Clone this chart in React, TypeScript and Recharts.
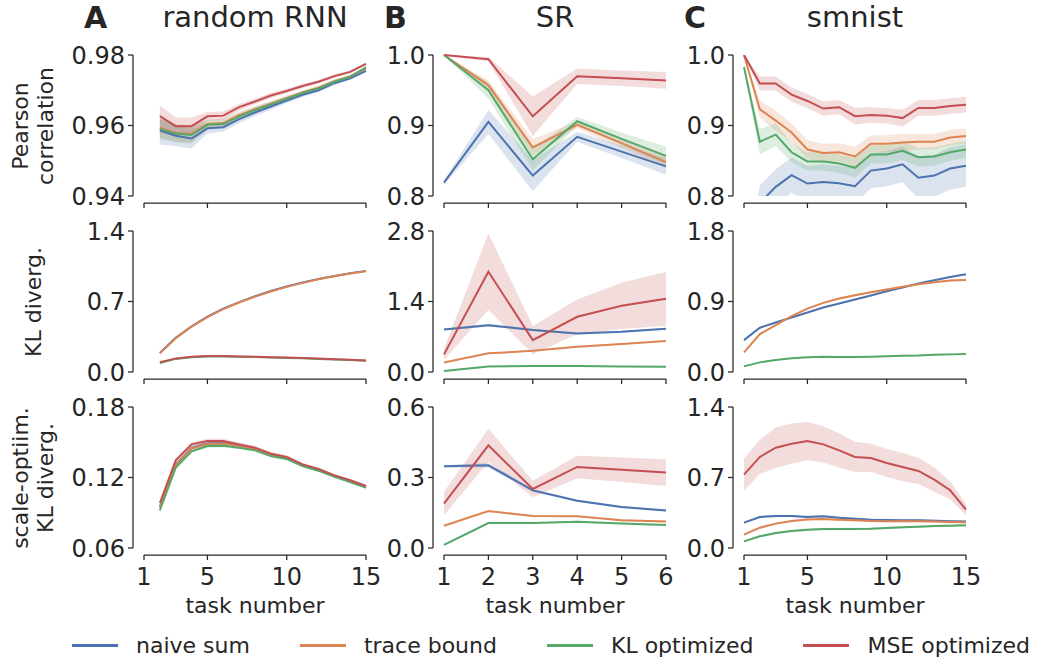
import React from "react";
import { Area, ComposedChart, Line, XAxis, YAxis } from "recharts";

const FONT = "'DejaVu Sans', sans-serif";
const INK = "#262626";

type Key = "naive" | "trace" | "kl" | "mse";

const SERIES: { key: Key; name: string; color: string }[] = [
  { key: "naive", name: "naive sum", color: "#4c72b0" },
  { key: "trace", name: "trace bound", color: "#dd8452" },
  { key: "kl", name: "KL optimized", color: "#55a868" },
  { key: "mse", name: "MSE optimized", color: "#c44e52" },
];

const COLUMN_TITLES = ["random RNN", "SR", "smnist"];
const PANEL_LETTERS = ["A", "B", "C"];
const ROW_LABELS = ["Pearson\ncorrelation", "KL diverg.", "scale-optiim.\nKL diverg."];

// task numbers on the x axis
const RNN_TASKS = [2, 3, 4, 5, 6, 7, 8, 9, 10, 11, 12, 13, 14, 15];
const SR_TASKS = [1, 2, 3, 4, 5, 6];
const MNIST_TASKS = [1, 2, 3, 4, 5, 6, 7, 8, 9, 10, 11, 12, 13, 14, 15];

const RNN_X_TICKS = [1, 5, 10, 15];
const SR_X_TICKS = [1, 2, 3, 4, 5, 6];
const MNIST_X_TICKS = [1, 5, 10, 15];

// random RNN
const rnnPearson = {
  naive: [0.9586, 0.9571, 0.9563, 0.9592, 0.9595, 0.9618, 0.9637, 0.9654, 0.9671, 0.9687, 0.97, 0.972, 0.9734, 0.9755],
  trace: [0.9594, 0.9579, 0.9576, 0.9604, 0.9607, 0.9629, 0.9646, 0.9662, 0.9678, 0.9694, 0.9707, 0.9726, 0.9739, 0.9762],
  kl: [0.959, 0.9577, 0.9573, 0.9602, 0.9604, 0.9626, 0.9644, 0.966, 0.9676, 0.9692, 0.9705, 0.9724, 0.9738, 0.9765],
  mse: [0.9627, 0.9598, 0.9598, 0.9626, 0.9628, 0.9652, 0.9668, 0.9685, 0.9698, 0.9712, 0.9724, 0.974, 0.9752, 0.9775],
};
const rnnPearsonErr = {
  naive: [0.004, 0.003, 0.0028, 0.0015, 0.0013, 0.0011, 0.001, 0.0009, 0.0008, 0.0007, 0.0006, 0.0006, 0.0005, 0.0005],
  trace: [0.0028, 0.0025, 0.0024, 0.0013, 0.0012, 0.001, 0.0009, 0.0008, 0.0007, 0.0006, 0.0006, 0.0005, 0.0005, 0.0004],
  kl: [0.0028, 0.0025, 0.0024, 0.0013, 0.0012, 0.001, 0.0009, 0.0008, 0.0007, 0.0006, 0.0006, 0.0005, 0.0005, 0.0004],
  mse: [0.003, 0.0025, 0.0025, 0.0012, 0.0012, 0.001, 0.0008, 0.0008, 0.0006, 0.0006, 0.0005, 0.0005, 0.0004, 0.0004],
};
const rnnKl = {
  naive: [0.189, 0.339, 0.454, 0.549, 0.629, 0.694, 0.752, 0.804, 0.849, 0.889, 0.924, 0.954, 0.981, 1.004],
  trace: [0.185, 0.335, 0.45, 0.545, 0.625, 0.69, 0.748, 0.8, 0.845, 0.885, 0.92, 0.95, 0.977, 1.0],
  kl: [0.088, 0.13, 0.147, 0.153, 0.153, 0.151, 0.148, 0.143, 0.139, 0.136, 0.13, 0.124, 0.118, 0.111],
  mse: [0.096, 0.135, 0.152, 0.158, 0.158, 0.155, 0.152, 0.147, 0.143, 0.139, 0.133, 0.127, 0.121, 0.114],
};
const rnnKlErr = {
  naive: [0.004, 0.004, 0.004, 0.004, 0.004, 0.004, 0.004, 0.004, 0.004, 0.004, 0.004, 0.004, 0.004, 0.004],
  trace: [0.004, 0.004, 0.004, 0.004, 0.004, 0.004, 0.004, 0.004, 0.004, 0.004, 0.004, 0.004, 0.004, 0.004],
  kl: [0.003, 0.003, 0.003, 0.003, 0.003, 0.003, 0.003, 0.003, 0.003, 0.003, 0.003, 0.003, 0.003, 0.003],
  mse: [0.004, 0.004, 0.005, 0.005, 0.005, 0.005, 0.004, 0.004, 0.004, 0.004, 0.004, 0.004, 0.004, 0.004],
};
const rnnScaled = {
  naive: [0.095, 0.131, 0.1452, 0.149, 0.1493, 0.147, 0.1444, 0.1395, 0.1367, 0.1306, 0.1266, 0.1213, 0.117, 0.1121],
  trace: [0.0945, 0.1305, 0.1447, 0.1486, 0.1489, 0.1466, 0.1441, 0.1392, 0.1364, 0.1303, 0.1263, 0.1211, 0.1168, 0.1119],
  kl: [0.0921, 0.1284, 0.1423, 0.1468, 0.1471, 0.1454, 0.1431, 0.1383, 0.1358, 0.1298, 0.1258, 0.1207, 0.1162, 0.1114],
  mse: [0.0983, 0.1346, 0.1482, 0.1511, 0.1511, 0.1482, 0.1454, 0.1403, 0.1374, 0.1312, 0.1272, 0.1218, 0.1176, 0.1128],
};
const rnnScaledErr = {
  naive: [0.0015, 0.0015, 0.0015, 0.0015, 0.0015, 0.0014, 0.0014, 0.0013, 0.0013, 0.0012, 0.0012, 0.0012, 0.0011, 0.0011],
  trace: [0.0015, 0.0015, 0.0015, 0.0015, 0.0015, 0.0014, 0.0014, 0.0013, 0.0013, 0.0012, 0.0012, 0.0012, 0.0011, 0.0011],
  kl: [0.0015, 0.0015, 0.0015, 0.0015, 0.0015, 0.0014, 0.0014, 0.0013, 0.0013, 0.0012, 0.0012, 0.0012, 0.0011, 0.0011],
  mse: [0.0018, 0.0018, 0.0018, 0.0018, 0.0018, 0.0017, 0.0016, 0.0015, 0.0015, 0.0014, 0.0014, 0.0013, 0.0013, 0.0012],
};

// SR
const srPearson = {
  naive: [0.819, 0.905, 0.829, 0.884, 0.863, 0.842],
  trace: [1.0, 0.957, 0.869, 0.901, 0.875, 0.848],
  kl: [1.0, 0.95, 0.852, 0.906, 0.881, 0.857],
  mse: [1.0, 0.994, 0.913, 0.97, 0.967, 0.964],
};
const srPearsonErr = {
  naive: [0.003, 0.017, 0.022, 0.007, 0.009, 0.012],
  trace: [0.0, 0.006, 0.012, 0.005, 0.007, 0.008],
  kl: [0.0, 0.012, 0.016, 0.006, 0.009, 0.013],
  mse: [0.0, 0.003, 0.028, 0.011, 0.011, 0.012],
};
const srKl = {
  naive: [0.845, 0.93, 0.832, 0.766, 0.8, 0.86],
  trace: [0.19, 0.37, 0.42, 0.5, 0.555, 0.614],
  kl: [0.02, 0.11, 0.12, 0.12, 0.11, 0.106],
  mse: [0.35, 1.99, 0.634, 1.096, 1.314, 1.453],
};
const srKlErr = {
  naive: [0.02, 0.03, 0.02, 0.02, 0.02, 0.02],
  trace: [0.01, 0.015, 0.015, 0.015, 0.015, 0.015],
  kl: [0.01, 0.012, 0.012, 0.012, 0.012, 0.012],
  mse: [0.11, 0.76, 0.28, 0.345, 0.46, 0.535],
};
const srScaled = {
  naive: [0.3475, 0.352, 0.245, 0.201, 0.174, 0.16],
  trace: [0.095, 0.157, 0.136, 0.135, 0.118, 0.113],
  kl: [0.013, 0.106, 0.106, 0.112, 0.104, 0.098],
  mse: [0.189, 0.437, 0.251, 0.345, 0.333, 0.321],
};
const srScaledErr = {
  naive: [0.006, 0.01, 0.007, 0.005, 0.005, 0.005],
  trace: [0.003, 0.004, 0.004, 0.004, 0.004, 0.004],
  kl: [0.004, 0.004, 0.004, 0.004, 0.004, 0.004],
  mse: [0.05, 0.07, 0.035, 0.048, 0.052, 0.057],
};

// smnist
const mnistPearson = {
  naive: [0.66, 0.79, 0.813, 0.8295, 0.8176, 0.82, 0.818, 0.814, 0.836, 0.839, 0.845, 0.826, 0.829, 0.839, 0.843],
  trace: [1.0, 0.923, 0.907, 0.89, 0.866, 0.861, 0.862, 0.856, 0.874, 0.874, 0.876, 0.877, 0.877, 0.883, 0.885],
  kl: [0.983, 0.877, 0.887, 0.862, 0.849, 0.849, 0.846, 0.84, 0.859, 0.859, 0.864, 0.855, 0.856, 0.862, 0.866],
  mse: [1.0, 0.9595, 0.9595, 0.9438, 0.9348, 0.924, 0.926, 0.9133, 0.915, 0.914, 0.9105, 0.925, 0.925, 0.9276, 0.9295],
};
const mnistPearsonErr = {
  naive: [0.02, 0.025, 0.025, 0.025, 0.025, 0.025, 0.025, 0.025, 0.025, 0.025, 0.025, 0.03, 0.03, 0.03, 0.03],
  trace: [0.0, 0.012, 0.014, 0.013, 0.013, 0.013, 0.013, 0.014, 0.012, 0.012, 0.012, 0.011, 0.011, 0.011, 0.011],
  kl: [0.004, 0.018, 0.016, 0.014, 0.013, 0.013, 0.013, 0.014, 0.013, 0.013, 0.013, 0.013, 0.013, 0.012, 0.012],
  mse: [0.0, 0.01, 0.01, 0.01, 0.01, 0.01, 0.01, 0.012, 0.011, 0.011, 0.012, 0.011, 0.011, 0.011, 0.011],
};
const mnistKl = {
  naive: [0.407, 0.565, 0.632, 0.696, 0.76, 0.823, 0.874, 0.925, 0.976, 1.031, 1.078, 1.129, 1.171, 1.214, 1.248],
  trace: [0.25, 0.484, 0.598, 0.713, 0.81, 0.883, 0.938, 0.98, 1.019, 1.053, 1.087, 1.12, 1.146, 1.167, 1.176],
  kl: [0.072, 0.123, 0.153, 0.174, 0.187, 0.195, 0.191, 0.191, 0.195, 0.2, 0.208, 0.212, 0.221, 0.225, 0.229],
};
const mnistKlErr = {
  naive: [0.01, 0.01, 0.01, 0.01, 0.01, 0.01, 0.01, 0.01, 0.01, 0.01, 0.01, 0.01, 0.01, 0.01, 0.01],
  trace: [0.012, 0.012, 0.012, 0.012, 0.012, 0.012, 0.012, 0.012, 0.012, 0.012, 0.012, 0.012, 0.012, 0.015, 0.015],
  kl: [0.008, 0.01, 0.01, 0.01, 0.01, 0.01, 0.01, 0.01, 0.01, 0.01, 0.01, 0.01, 0.01, 0.01, 0.01],
};
const mnistScaled = {
  naive: [0.252, 0.308, 0.318, 0.318, 0.308, 0.315, 0.301, 0.291, 0.281, 0.278, 0.275, 0.275, 0.271, 0.265, 0.262],
  trace: [0.132, 0.202, 0.242, 0.268, 0.284, 0.288, 0.281, 0.275, 0.268, 0.265, 0.265, 0.265, 0.262, 0.258, 0.255],
  kl: [0.066, 0.116, 0.149, 0.169, 0.182, 0.189, 0.189, 0.189, 0.192, 0.199, 0.205, 0.212, 0.218, 0.222, 0.225],
  mse: [0.728, 0.904, 0.996, 1.036, 1.062, 1.029, 0.97, 0.904, 0.894, 0.844, 0.804, 0.765, 0.679, 0.573, 0.381],
};
const mnistScaledErr = {
  naive: [0.012, 0.012, 0.012, 0.012, 0.012, 0.012, 0.012, 0.012, 0.012, 0.012, 0.012, 0.012, 0.012, 0.012, 0.012],
  trace: [0.012, 0.012, 0.012, 0.012, 0.012, 0.012, 0.012, 0.012, 0.012, 0.012, 0.012, 0.012, 0.012, 0.012, 0.012],
  kl: [0.012, 0.012, 0.012, 0.012, 0.012, 0.012, 0.012, 0.012, 0.012, 0.012, 0.012, 0.012, 0.012, 0.012, 0.012],
  mse: [0.16, 0.17, 0.2, 0.2, 0.19, 0.18, 0.17, 0.15, 0.14, 0.14, 0.14, 0.13, 0.12, 0.09, 0.055],
};

type Panel = {
  col: number;
  row: number;
  tasks: number[];
  xTicks: number[];
  yTicks: number[];
  digits: number;
  mean: Partial<Record<Key, number[]>>;
  err: Partial<Record<Key, number[]>>;
  clip?: boolean;
};

const PANELS: Panel[] = [
  { col: 0, row: 0, tasks: RNN_TASKS, xTicks: RNN_X_TICKS, yTicks: [0.94, 0.96, 0.98], digits: 2, mean: rnnPearson, err: rnnPearsonErr },
  { col: 0, row: 1, tasks: RNN_TASKS, xTicks: RNN_X_TICKS, yTicks: [0, 0.7, 1.4], digits: 1, mean: rnnKl, err: rnnKlErr },
  { col: 0, row: 2, tasks: RNN_TASKS, xTicks: RNN_X_TICKS, yTicks: [0.06, 0.12, 0.18], digits: 2, mean: rnnScaled, err: rnnScaledErr },
  { col: 1, row: 0, tasks: SR_TASKS, xTicks: SR_X_TICKS, yTicks: [0.8, 0.9, 1.0], digits: 1, mean: srPearson, err: srPearsonErr },
  { col: 1, row: 1, tasks: SR_TASKS, xTicks: SR_X_TICKS, yTicks: [0, 1.4, 2.8], digits: 1, mean: srKl, err: srKlErr },
  { col: 1, row: 2, tasks: SR_TASKS, xTicks: SR_X_TICKS, yTicks: [0, 0.3, 0.6], digits: 1, mean: srScaled, err: srScaledErr },
  { col: 2, row: 0, tasks: MNIST_TASKS, xTicks: MNIST_X_TICKS, yTicks: [0.8, 0.9, 1.0], digits: 1, mean: mnistPearson, err: mnistPearsonErr, clip: true },
  { col: 2, row: 1, tasks: MNIST_TASKS, xTicks: MNIST_X_TICKS, yTicks: [0, 0.9, 1.8], digits: 1, mean: mnistKl, err: mnistKlErr },
  { col: 2, row: 2, tasks: MNIST_TASKS, xTicks: MNIST_X_TICKS, yTicks: [0, 0.7, 1.4], digits: 1, mean: mnistScaled, err: mnistScaledErr },
];

// layout of the 3x3 grid
const COL_LEFT = [144, 444, 744];
const ROW_TOP = [55, 231, 407];
const PLOT_W = 222;
const PLOT_H = 141;
const Y_TICK_W = 66;
const Y_GAP = 11;
const X_GAP = 7;
const PAD_TOP = 14;
const PAD_RIGHT = 18;

const axisStroke = { stroke: INK, strokeWidth: 1.25 };

function buildRows(p: Panel) {
  return p.tasks.map((x, i) => {
    const row: Record<string, number | number[]> = { x };
    for (const s of SERIES) {
      const m = p.mean[s.key];
      if (!m) continue;
      const e = p.err[s.key]?.[i] ?? 0;
      row[s.key] = m[i];
      row[`${s.key}Band`] = [m[i] - e, m[i] + e];
    }
    return row;
  });
}

function PanelChart({ p }: { p: Panel }) {
  const bottom = p.row === 2;
  const xh = bottom ? 62 : 20;
  const width = Y_TICK_W + Y_GAP + PLOT_W + PAD_RIGHT;
  const height = PAD_TOP + PLOT_H + X_GAP + xh;
  const xDomain: [number, number] = [p.xTicks[0], p.xTicks[p.xTicks.length - 1]];
  const yDomain: [number, number] = [p.yTicks[0], p.yTicks[p.yTicks.length - 1]];
  const shown = SERIES.filter((s) => p.mean[s.key]);

  return (
    <div
      style={{
        position: "absolute",
        left: COL_LEFT[p.col] - Y_GAP - Y_TICK_W,
        top: ROW_TOP[p.row] - PAD_TOP,
      }}
    >
      <ComposedChart
        width={width}
        height={height}
        data={buildRows(p)}
        margin={{ top: PAD_TOP, right: PAD_RIGHT, bottom: 0, left: 0 }}
      >
        {/* invisible spacer axes push the spines away from the data */}
        <XAxis xAxisId="gap" type="number" dataKey="x" domain={xDomain} height={X_GAP} axisLine={false} tickLine={false} tick={false} />
        <YAxis yAxisId="gap" type="number" domain={[0, 1]} width={Y_GAP} axisLine={false} tickLine={false} tick={false} />
        <XAxis
          xAxisId="x"
          type="number"
          dataKey="x"
          domain={xDomain}
          ticks={p.xTicks}
          interval={0}
          height={xh}
          tickSize={5}
          tickMargin={8}
          axisLine={axisStroke}
          tickLine={axisStroke}
          tickFormatter={(v: number) => (bottom ? String(v) : "")}
          tick={{ fontSize: 24, fill: INK, fontFamily: FONT }}
          label={
            bottom
              ? { value: "task number", position: "insideBottom", offset: 4, fontSize: 22, fill: INK, fontFamily: FONT }
              : undefined
          }
        />
        <YAxis
          yAxisId="y"
          type="number"
          domain={yDomain}
          ticks={p.yTicks}
          interval={0}
          width={Y_TICK_W}
          allowDataOverflow={!!p.clip}
          tickSize={5}
          tickMargin={3}
          axisLine={axisStroke}
          tickLine={axisStroke}
          tickFormatter={(v: number) => v.toFixed(p.digits)}
          tick={{ fontSize: 24, fill: INK, fontFamily: FONT }}
        />
        {shown.map((s) => (
          <Area
            key={`${s.key}-band`}
            xAxisId="x"
            yAxisId="y"
            type="linear"
            dataKey={`${s.key}Band`}
            stroke="none"
            fill={s.color}
            fillOpacity={0.2}
            dot={false}
            activeDot={false}
            isAnimationActive={false}
          />
        ))}
        {shown.map((s) => (
          <Line
            key={s.key}
            xAxisId="x"
            yAxisId="y"
            type="linear"
            dataKey={s.key}
            stroke={s.color}
            strokeWidth={2}
            dot={false}
            activeDot={false}
            isAnimationActive={false}
          />
        ))}
      </ComposedChart>
    </div>
  );
}

export default function App() {
  return (
    <div
      style={{
        position: "absolute",
        left: 0,
        top: 0,
        width: 1040,
        height: 659,
        background: "#fff",
        fontFamily: FONT,
        color: INK,
        overflow: "hidden",
      }}
    >
      {COLUMN_TITLES.map((t, c) => (
        <div
          key={t}
          style={{
            position: "absolute",
            left: COL_LEFT[c] + PLOT_W / 2,
            top: 0,
            transform: "translateX(-50%)",
            fontSize: 29,
            whiteSpace: "nowrap",
          }}
        >
          {t}
        </div>
      ))}
      {PANEL_LETTERS.map((l, c) => (
        <div
          key={l}
          style={{
            position: "absolute",
            left: COL_LEFT[c] - 60,
            top: 0,
            fontSize: 30,
            fontWeight: "bold",
          }}
        >
          {l}
        </div>
      ))}
      {ROW_LABELS.map((l, r) => (
        <div
          key={l}
          style={{
            position: "absolute",
            left: 33,
            top: ROW_TOP[r] + PLOT_H / 2,
            transform: "translate(-50%, -50%) rotate(-90deg)",
            fontSize: 22,
            lineHeight: "25px",
            whiteSpace: "pre",
            textAlign: "center",
          }}
        >
          {l}
        </div>
      ))}
      {PANELS.map((p) => (
        <PanelChart key={`${p.col}-${p.row}`} p={p} />
      ))}
      <div
        style={{
          position: "absolute",
          left: 72,
          top: 633,
          display: "flex",
          alignItems: "center",
          gap: 50,
          fontSize: 22,
          whiteSpace: "nowrap",
        }}
      >
        {SERIES.map((s) => (
          <div key={s.key} style={{ display: "flex", alignItems: "center" }}>
            <div style={{ width: 46, height: 3, background: s.color, marginRight: 18 }} />
            <span>{s.name}</span>
          </div>
        ))}
      </div>
    </div>
  );
}
